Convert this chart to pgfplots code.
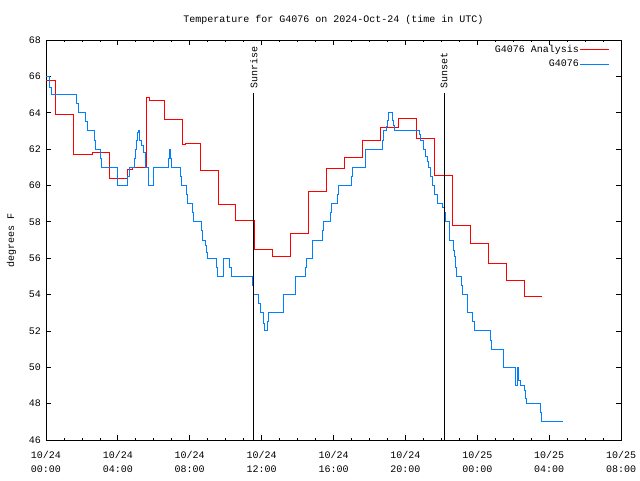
\documentclass[border=0pt]{standalone}
\usepackage{pgfplots}
\pgfplotsset{compat=1.18}
\usepackage{fontspec}
\setmainfont{Liberation Mono}
\definecolor{anared}{RGB}{255,0,0}
\definecolor{obsblue}{RGB}{0,128,255}

\pgfplotstableread{
h T
0 65.8
0.55 63.9
1.55 61.7
2.58 61.8
3.55 60.4
4.53 60.9
4.8 61.0
5.6 64.85
5.75 64.65
6.6 63.64
7.58 62.25
7.75 62.32
8.58 60.85
9.58 58.96
10.57 58.1
11.6 56.5
12.58 56.12
13.6 57.37
14.6 59.66
15.6 60.94
16.62 61.55
17.6 62.5
18.62 63.2
19.6 63.69
20.6 62.59
21.63 60.57
22.6 57.82
23.6 56.82
24.6 55.72
25.62 54.8
26.62 53.88
27.52 53.92
27.63 53.92
}\analysis

\pgfplotstableread{
h T
0 66.0
0.2 65.4
0.28 65.0
1.69 64.5
1.8 64.0
2.21 63.5
2.32 63.0
2.68 62.5
2.73 62.0
3.05 61.5
3.08 61.0
4.0 60.0
4.53 60.5
4.63 61.0
4.9 61.5
4.96 62.0
5.03 62.5
5.11 62.9
5.17 63.05
5.22 62.5
5.3 62.2
5.43 61.8
5.52 61.0
5.69 60.0
6.0 61.0
6.8 61.5
6.86 62.0
6.91 61.5
6.97 61.0
7.49 60.5
7.55 60.0
7.84 59.5
7.88 59.0
8.16 58.5
8.21 58.0
8.66 57.5
8.7 57.0
8.9 56.7
8.95 56.3
8.99 56.0
9.49 55.5
9.55 55.0
9.87 56.0
10.2 55.5
10.33 55.0
11.5 54.5
11.56 54.0
11.84 53.5
11.93 53.0
12.1 52.4
12.15 52.0
12.34 52.5
12.4 53.0
13.21 54.0
13.86 55.0
14.44 55.5
14.49 56.0
14.81 56.5
14.85 57.0
15.4 57.5
15.46 58.0
15.81 58.5
15.87 59.0
16.24 59.5
16.3 60.0
16.98 60.5
17.03 61.0
17.76 61.5
17.8 62.0
18.75 62.5
18.8 63.0
18.93 63.25
19.02 63.6
19.08 64.0
19.27 63.6
19.32 63.3
19.4 63.0
20.8 62.8
20.85 62.5
20.98 62.0
21.13 61.6
21.22 61.3
21.31 61.0
21.4 60.5
21.5 60.0
21.63 59.5
21.81 59.0
22.09 58.8
22.17 58.5
22.24 58.0
22.43 57.5
22.47 57.0
22.65 56.7
22.7 56.45
22.74 56.1
22.77 55.8
22.8 55.5
22.83 55.25
22.86 55.0
23.12 54.5
23.2 54.0
23.45 53.5
23.48 53.0
23.76 52.5
23.82 52.0
24.75 51.5
24.8 51.0
25.43 50.5
25.47 50.0
26.14 49.0
26.22 50.0
26.3 49.3
26.42 49.0
26.64 48.7
26.69 48.3
26.74 48.0
27.52 47.5
27.6 47.0
28.78 47.0
}\observed

\begin{document}
\begin{tikzpicture}
\useasboundingbox (0pt,0pt) rectangle (640pt,480pt);
\begin{axis}[
  at={(46pt,40pt)}, anchor=south west,
  scale only axis, width=575pt, height=400pt,
  xmin=0, xmax=32, ymin=46, ymax=68,
  xtick={0,4,...,32},
  xticklabels={{10/24\\00:00},{10/24\\04:00},{10/24\\08:00},{10/24\\12:00},{10/24\\16:00},{10/24\\20:00},{10/25\\00:00},{10/25\\04:00},{10/25\\08:00}},
  minor x tick num=3,
  ytick={46,48,...,68},
  /pgf/number format/assume math mode=true,
  tick align=inside,
  major tick length=5pt,
  minor tick length=2.5pt,
  every tick/.style={black, line width=0.8pt},
  axis line style={line width=0.8pt},
  xticklabel style={align=center, inner sep=0pt, yshift=-11pt, font=\fontsize{10}{14.5}\selectfont},
  yticklabel style={inner sep=0pt, xshift=-5pt},
  title={Temperature for G4076 on 2024-Oct-24 (time in UTC)},
  title style={at={(axis description cs:0.5,1.034)}, anchor=center, inner sep=0pt, yshift=0pt},
  ylabel={degrees F},
  every axis y label/.style={at={(axis description cs:-0.06,0.5)}, rotate=90, anchor=center},
  legend style={draw=none, fill=none, at={(1,1)}, anchor=north east, xshift=-11pt, yshift=-4pt,
    row sep=4pt, inner sep=0pt, nodes={inner sep=1pt}},
  legend cell align=right,
  legend plot pos=right,
  legend image code/.code={\draw[#1] (7pt,0pt) -- (36pt,0pt);},
]
\addplot[const plot, anared, line width=0.9pt] table[x=h,y=T] {\analysis};
\addlegendentry{G4076 Analysis}
\addplot[const plot, obsblue, line width=0.9pt] table[x=h,y=T] {\observed};
\addlegendentry{G4076}
\addplot[black, line width=0.9pt, forget plot] coordinates {(11.57,46) (11.57,65.08)};
\addplot[black, line width=0.9pt, forget plot] coordinates {(22.15,46) (22.15,65.08)};
\node[rotate=90, anchor=west, inner sep=0pt] at (axis cs:11.57,65.3) {Sunrise};
\node[rotate=90, anchor=west, inner sep=0pt] at (axis cs:22.15,65.3) {Sunset};
\end{axis}
\end{tikzpicture}
\end{document}
